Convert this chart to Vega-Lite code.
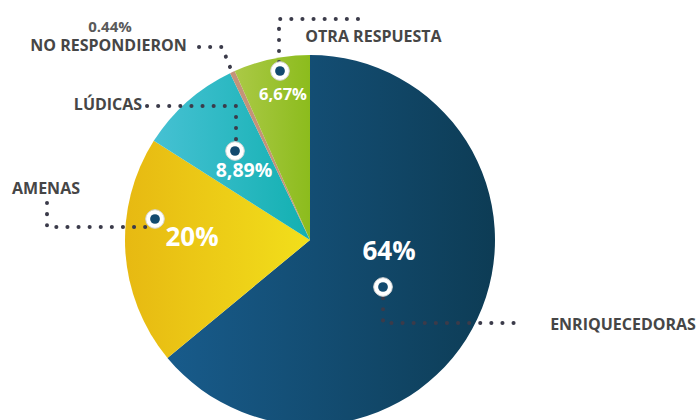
{
  "$schema": "https://vega.github.io/schema/vega-lite/v6.json",
  "width": 700,
  "height": 420,
  "autosize": {"type": "none"},
  "padding": 0,
  "background": "white",
  "config": {"view": {"stroke": null}},
  "datasets": {
    "respuestas": [
      {"categoria": "Enriquecedoras", "pct": 64, "orden": 1},
      {"categoria": "Amenas", "pct": 20, "orden": 2},
      {"categoria": "Lúdicas", "pct": 8.89, "orden": 3},
      {"categoria": "No respondieron", "pct": 0.44, "orden": 4},
      {"categoria": "Otra respuesta", "pct": 6.67, "orden": 5}
    ],
    "guias": [
      {"serie": "Otra respuesta", "orden": 1, "x": 48, "y": 221},
      {"serie": "Otra respuesta", "orden": 2, "x": -31, "y": 221},
      {"serie": "Otra respuesta", "orden": 3, "x": -31, "y": 169},
      {"serie": "No respondieron", "orden": 1, "x": -111, "y": 193},
      {"serie": "No respondieron", "orden": 2, "x": -88, "y": 193},
      {"serie": "No respondieron", "orden": 3, "x": -78, "y": 168},
      {"serie": "Lúdicas", "orden": 1, "x": -163, "y": 134},
      {"serie": "Lúdicas", "orden": 2, "x": -74, "y": 134},
      {"serie": "Lúdicas", "orden": 3, "x": -74, "y": 89},
      {"serie": "Amenas", "orden": 1, "x": -263, "y": 37},
      {"serie": "Amenas", "orden": 2, "x": -263, "y": 13},
      {"serie": "Amenas", "orden": 3, "x": -160, "y": 13},
      {"serie": "Enriquecedoras", "orden": 1, "x": 73, "y": -47},
      {"serie": "Enriquecedoras", "orden": 2, "x": 73, "y": -83},
      {"serie": "Enriquecedoras", "orden": 3, "x": 210, "y": -83}
    ],
    "marcadores": [
      {"categoria": "Otra respuesta", "x": -30, "y": 169},
      {"categoria": "Lúdicas", "x": -75, "y": 89},
      {"categoria": "Amenas", "x": -155, "y": 21},
      {"categoria": "Enriquecedoras", "x": 73, "y": -47}
    ],
    "porcentajes": [
      {"categoria": "Enriquecedoras", "etiqueta": "64%", "x": 79, "y": -12},
      {"categoria": "Amenas", "etiqueta": "20%", "x": -118, "y": 2},
      {"categoria": "Lúdicas", "etiqueta": "8,89%", "x": -66, "y": 69},
      {"categoria": "Otra respuesta", "etiqueta": "6,67%", "x": -27, "y": 145}
    ],
    "nombres": [
      {"etiqueta": "OTRA RESPUESTA", "x": 63.5, "y": 203},
      {"etiqueta": "NO RESPONDIERON", "x": -201.5, "y": 194},
      {"etiqueta": "LÚDICAS", "x": -202, "y": 135},
      {"etiqueta": "AMENAS", "x": -264, "y": 51},
      {"etiqueta": "ENRIQUECEDORAS", "x": 313, "y": -84.5}
    ],
    "notas": [
      {"etiqueta": "0.44%", "x": -200, "y": 213}
    ]
  },
  "layer": [
    {
      "data": {"name": "respuestas"},
      "transform": [
        {"stack": "pct", "groupby": [], "sort": [{"field": "orden", "order": "ascending"}], "as": ["p0", "p1"]},
        {"filter": "datum.categoria === 'Enriquecedoras'"}
      ],
      "mark": {"type": "arc", "outerRadius": 185, "fill": {"gradient": "linear", "x1": 0, "y1": 0, "x2": 1, "y2": 0, "stops": [{"offset": 0, "color": "#185b8b"}, {"offset": 1, "color": "#0d3c55"}]}},
      "encoding": {
        "theta": {"field": "p0", "type": "quantitative", "scale": {"domain": [0, 100]}},
        "theta2": {"field": "p1"},
        "x": {"datum": 0, "type": "quantitative", "scale": {"domain": [-310, 390], "nice": false, "zero": false}, "axis": null},
        "y": {"datum": 0, "type": "quantitative", "scale": {"domain": [-180, 240], "nice": false, "zero": false}, "axis": null}
      }
    },
    {
      "data": {"name": "respuestas"},
      "transform": [
        {"stack": "pct", "groupby": [], "sort": [{"field": "orden", "order": "ascending"}], "as": ["p0", "p1"]},
        {"filter": "datum.categoria === 'Amenas'"}
      ],
      "mark": {"type": "arc", "outerRadius": 185, "fill": {"gradient": "linear", "x1": 0, "y1": 0, "x2": 1, "y2": 0, "stops": [{"offset": 0, "color": "#e7b912"}, {"offset": 1, "color": "#f2df1b"}]}},
      "encoding": {
        "theta": {"field": "p0", "type": "quantitative", "scale": {"domain": [0, 100]}},
        "theta2": {"field": "p1"},
        "x": {"datum": 0, "type": "quantitative", "scale": {"domain": [-310, 390], "nice": false, "zero": false}, "axis": null},
        "y": {"datum": 0, "type": "quantitative", "scale": {"domain": [-180, 240], "nice": false, "zero": false}, "axis": null}
      }
    },
    {
      "data": {"name": "respuestas"},
      "transform": [
        {"stack": "pct", "groupby": [], "sort": [{"field": "orden", "order": "ascending"}], "as": ["p0", "p1"]},
        {"filter": "datum.categoria === 'Lúdicas'"}
      ],
      "mark": {"type": "arc", "outerRadius": 185, "fill": {"gradient": "linear", "x1": 0, "y1": 0, "x2": 1, "y2": 0, "stops": [{"offset": 0, "color": "#46c1d3"}, {"offset": 1, "color": "#12b0b1"}]}},
      "encoding": {
        "theta": {"field": "p0", "type": "quantitative", "scale": {"domain": [0, 100]}},
        "theta2": {"field": "p1"},
        "x": {"datum": 0, "type": "quantitative", "scale": {"domain": [-310, 390], "nice": false, "zero": false}, "axis": null},
        "y": {"datum": 0, "type": "quantitative", "scale": {"domain": [-180, 240], "nice": false, "zero": false}, "axis": null}
      }
    },
    {
      "data": {"name": "respuestas"},
      "transform": [
        {"stack": "pct", "groupby": [], "sort": [{"field": "orden", "order": "ascending"}], "as": ["p0", "p1"]},
        {"filter": "datum.categoria === 'No respondieron'"}
      ],
      "mark": {"type": "arc", "outerRadius": 185, "fill": "#c4937a"},
      "encoding": {
        "theta": {"field": "p0", "type": "quantitative", "scale": {"domain": [0, 100]}},
        "theta2": {"field": "p1"},
        "x": {"datum": 0, "type": "quantitative", "scale": {"domain": [-310, 390], "nice": false, "zero": false}, "axis": null},
        "y": {"datum": 0, "type": "quantitative", "scale": {"domain": [-180, 240], "nice": false, "zero": false}, "axis": null}
      }
    },
    {
      "data": {"name": "respuestas"},
      "transform": [
        {"stack": "pct", "groupby": [], "sort": [{"field": "orden", "order": "ascending"}], "as": ["p0", "p1"]},
        {"filter": "datum.categoria === 'Otra respuesta'"}
      ],
      "mark": {"type": "arc", "outerRadius": 185, "fill": {"gradient": "linear", "x1": 0, "y1": 0, "x2": 1, "y2": 0, "stops": [{"offset": 0, "color": "#abc946"}, {"offset": 1, "color": "#8cbc1d"}]}},
      "encoding": {
        "theta": {"field": "p0", "type": "quantitative", "scale": {"domain": [0, 100]}},
        "theta2": {"field": "p1"},
        "x": {"datum": 0, "type": "quantitative", "scale": {"domain": [-310, 390], "nice": false, "zero": false}, "axis": null},
        "y": {"datum": 0, "type": "quantitative", "scale": {"domain": [-180, 240], "nice": false, "zero": false}, "axis": null}
      }
    },
    {
      "data": {"name": "guias"},
      "mark": {"type": "line", "strokeWidth": 4, "strokeCap": "round", "strokeDash": [0.1, 11], "color": "#3b3b4a"},
      "encoding": {
        "x": {"field": "x", "type": "quantitative", "scale": {"domain": [-310, 390], "nice": false, "zero": false}, "axis": null},
        "y": {"field": "y", "type": "quantitative", "scale": {"domain": [-180, 240], "nice": false, "zero": false}, "axis": null},
        "detail": {"field": "serie"},
        "order": {"field": "orden", "type": "quantitative"}
      }
    },
    {
      "data": {"name": "marcadores"},
      "mark": {"type": "point", "filled": true, "size": 346, "color": "white", "stroke": "#d6d6d6", "strokeWidth": 1, "opacity": 1},
      "encoding": {
        "x": {"field": "x", "type": "quantitative", "scale": {"domain": [-310, 390], "nice": false, "zero": false}, "axis": null},
        "y": {"field": "y", "type": "quantitative", "scale": {"domain": [-180, 240], "nice": false, "zero": false}, "axis": null}
      }
    },
    {
      "data": {"name": "marcadores"},
      "mark": {"type": "point", "filled": true, "size": 95, "color": "#124a6f", "opacity": 1},
      "encoding": {
        "x": {"field": "x", "type": "quantitative", "scale": {"domain": [-310, 390], "nice": false, "zero": false}, "axis": null},
        "y": {"field": "y", "type": "quantitative", "scale": {"domain": [-180, 240], "nice": false, "zero": false}, "axis": null}
      }
    },
    {
      "data": {"name": "porcentajes"},
      "transform": [{"filter": "datum.categoria === 'Enriquecedoras' || datum.categoria === 'Amenas'"}],
      "mark": {"type": "text", "font": "Open Sans", "fontWeight": "bold", "fontSize": 26, "color": "white", "align": "center", "baseline": "middle"},
      "encoding": {
        "x": {"field": "x", "type": "quantitative", "scale": {"domain": [-310, 390], "nice": false, "zero": false}, "axis": null},
        "y": {"field": "y", "type": "quantitative", "scale": {"domain": [-180, 240], "nice": false, "zero": false}, "axis": null},
        "text": {"field": "etiqueta"}
      }
    },
    {
      "data": {"name": "porcentajes"},
      "transform": [{"filter": "datum.categoria === 'Lúdicas'"}],
      "mark": {"type": "text", "font": "Open Sans", "fontWeight": "bold", "fontSize": 19.5, "color": "white", "align": "center", "baseline": "middle"},
      "encoding": {
        "x": {"field": "x", "type": "quantitative", "scale": {"domain": [-310, 390], "nice": false, "zero": false}, "axis": null},
        "y": {"field": "y", "type": "quantitative", "scale": {"domain": [-180, 240], "nice": false, "zero": false}, "axis": null},
        "text": {"field": "etiqueta"}
      }
    },
    {
      "data": {"name": "porcentajes"},
      "transform": [{"filter": "datum.categoria === 'Otra respuesta'"}],
      "mark": {"type": "text", "font": "Open Sans", "fontWeight": "bold", "fontSize": 16.5, "color": "white", "align": "center", "baseline": "middle"},
      "encoding": {
        "x": {"field": "x", "type": "quantitative", "scale": {"domain": [-310, 390], "nice": false, "zero": false}, "axis": null},
        "y": {"field": "y", "type": "quantitative", "scale": {"domain": [-180, 240], "nice": false, "zero": false}, "axis": null},
        "text": {"field": "etiqueta"}
      }
    },
    {
      "data": {"name": "nombres"},
      "mark": {"type": "text", "font": "Open Sans", "fontWeight": "bold", "fontSize": 16, "color": "#464646", "align": "center", "baseline": "middle"},
      "encoding": {
        "x": {"field": "x", "type": "quantitative", "scale": {"domain": [-310, 390], "nice": false, "zero": false}, "axis": null},
        "y": {"field": "y", "type": "quantitative", "scale": {"domain": [-180, 240], "nice": false, "zero": false}, "axis": null},
        "text": {"field": "etiqueta"}
      }
    },
    {
      "data": {"name": "notas"},
      "mark": {"type": "text", "font": "Open Sans", "fontWeight": "bold", "fontSize": 15, "color": "#5a5a5a", "align": "center", "baseline": "middle"},
      "encoding": {
        "x": {"field": "x", "type": "quantitative", "scale": {"domain": [-310, 390], "nice": false, "zero": false}, "axis": null},
        "y": {"field": "y", "type": "quantitative", "scale": {"domain": [-180, 240], "nice": false, "zero": false}, "axis": null},
        "text": {"field": "etiqueta"}
      }
    }
  ]
}
